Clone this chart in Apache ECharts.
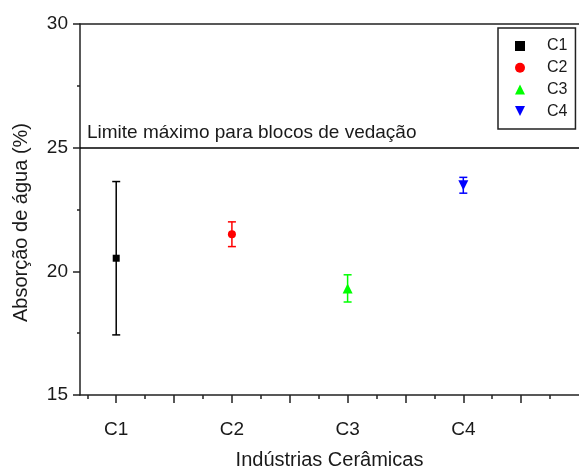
<!DOCTYPE html>
<html>
<head>
<meta charset="utf-8">
<script src="https://cdn.jsdelivr.net/npm/echarts@6/dist/echarts.min.js"></script>
<style>
html,body{margin:0;padding:0;background:#fff;}
#chart{width:579px;height:468px;}
</style>
</head>
<body>
<div id="chart"></div>
<script>
// ---- data ----
var categories = ['C1', 'C2', 'C3', 'C4'];
var means = [20.53, 21.50, 19.31, 23.48];
var errors = [3.10, 0.50, 0.55, 0.32];
var colors = ['#000000', '#ff0000', '#00ff00', '#0000ff'];
var symbols = ['rect', 'circle', 'triangle', 'path://M0,0 L10,0 L5,10 Z'];
var symbolSizes = [7, 8, 10, 10];
var limitValue = 25;
var limitLabel = 'Limite máximo para blocos de vedação';
var yTicks = [15, 20, 25, 30];
var xName = 'Indústrias Cerâmicas';
var yName = 'Absorção de água (%)';

var FONT = 'Liberation Sans, Arial, sans-serif';
var TXT = '#1a1a1a';
var AX = '#222222';

var xMin = 0.687, xMax = 5.0;
var majorX = [], minorX = [];
for (var v = 1; v <= 4.5; v += 0.5) majorX.push(v);
for (var w = 0.75; w <= 4.8; w += 0.5) minorX.push(w);
var labelX = categories.map(function (c, i) { return i + 1; });

var series = [];
categories.forEach(function (cat, i) {
  var x = i + 1;
  series.push({
    type: 'custom',
    name: cat + '_err',
    xAxisIndex: 0,
    yAxisIndex: 0,
    silent: true,
    z: 2,
    data: [[x, means[i] - errors[i], means[i] + errors[i]]],
    renderItem: function (params, api) {
      var lo = api.coord([api.value(0), api.value(1)]);
      var hi = api.coord([api.value(0), api.value(2)]);
      var cw = 4;
      var style = { stroke: colors[i], lineWidth: 1.5, fill: null };
      return {
        type: 'group',
        children: [
          { type: 'line', shape: { x1: lo[0], y1: lo[1], x2: hi[0], y2: hi[1] }, style: style },
          { type: 'line', shape: { x1: lo[0] - cw, y1: lo[1], x2: lo[0] + cw, y2: lo[1] }, style: style },
          { type: 'line', shape: { x1: hi[0] - cw, y1: hi[1], x2: hi[0] + cw, y2: hi[1] }, style: style }
        ]
      };
    }
  });
  var s = {
    type: 'scatter',
    name: cat,
    xAxisIndex: 0,
    yAxisIndex: 0,
    z: 3,
    symbol: symbols[i],
    symbolSize: symbolSizes[i],
    itemStyle: { color: colors[i], opacity: 1 },
    data: [[x, means[i]]]
  };
  if (i === 0) {
    s.markLine = {
      silent: true,
      symbol: 'none',
      lineStyle: { color: '#000', width: 1.5, type: 'solid' },
      label: {
        show: true,
        position: 'insideStartTop',
        formatter: limitLabel,
        fontFamily: FONT,
        fontSize: 19,
        color: TXT,
        distance: [7, 5]
      },
      data: [{ yAxis: limitValue }]
    };
  }
  series.push(s);
});

var chart = echarts.init(document.getElementById('chart'), null, { renderer: 'canvas' });
chart.setOption({
  animation: false,
  backgroundColor: '#ffffff',
  grid: { left: 80, right: 0, top: 24, bottom: 73, outerBoundsMode: 'none', containLabel: false },
  legend: {
    data: categories.map(function (c, i) { return { name: c, icon: symbols[i] }; }),
    orient: 'vertical',
    left: 498,
    top: 28,
    padding: [10, 8, 10, 17],
    itemGap: 5.7,
    itemWidth: 10,
    itemHeight: 10,
    symbolKeepAspect: true,
    borderColor: AX,
    borderWidth: 1.5,
    textStyle: { fontFamily: FONT, fontSize: 16, color: TXT, padding: [0, 0, 0, 17] }
  },
  xAxis: [
    {
      type: 'value', min: xMin, max: xMax, position: 'bottom',
      axisLine: { show: true, onZero: false, lineStyle: { color: AX, width: 1.5 } },
      axisTick: { show: true, customValues: majorX, length: 8, lineStyle: { color: AX, width: 1.5 } },
      axisLabel: {
        customValues: labelX, margin: 25, fontFamily: FONT, fontSize: 19, color: TXT,
        formatter: function (val) { return categories[Math.round(val) - 1] || ''; }
      },
      splitLine: { show: false },
      name: xName, nameLocation: 'middle', nameGap: 55,
      nameTextStyle: { fontFamily: FONT, fontSize: 20, color: TXT }
    },
    {
      type: 'value', min: xMin, max: xMax, position: 'bottom',
      axisLine: { show: false },
      axisTick: { show: true, customValues: minorX, length: 4, lineStyle: { color: AX, width: 1.5 } },
      axisLabel: { show: false },
      splitLine: { show: false }
    },
    {
      type: 'value', min: xMin, max: xMax, position: 'top',
      axisLine: { show: true, onZero: false, lineStyle: { color: AX, width: 1.5 } },
      axisTick: { show: false },
      axisLabel: { show: false },
      splitLine: { show: false }
    }
  ],
  yAxis: [
    {
      type: 'value', min: yTicks[0], max: yTicks[yTicks.length - 1], interval: 5,
      axisLine: { show: true, onZero: false, lineStyle: { color: AX, width: 1.5 } },
      axisTick: { show: true, length: 7, lineStyle: { color: AX, width: 1.5 } },
      minorTick: { show: true, splitNumber: 2, length: 3, lineStyle: { color: AX, width: 1.5 } },
      axisLabel: { margin: 12, fontFamily: FONT, fontSize: 19, color: TXT },
      splitLine: { show: false },
      name: yName, nameLocation: 'middle', nameGap: 49,
      nameTextStyle: { fontFamily: FONT, fontSize: 20, color: TXT, padding: [0, 26, 0, 0] }
    }
  ],
  series: series
});
</script>
</body>
</html>
